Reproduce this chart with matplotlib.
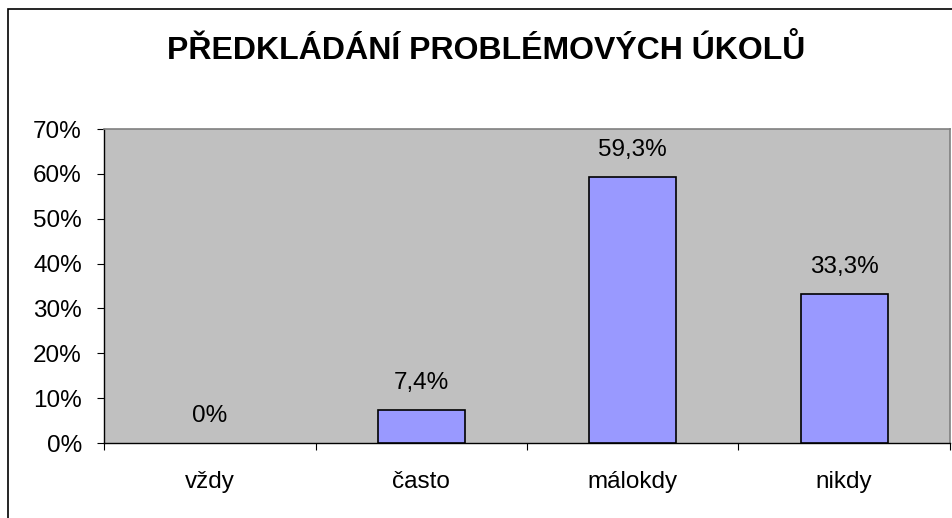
import numpy as np
import matplotlib.pyplot as plt
from matplotlib.patches import Rectangle

plt.rcParams['font.family'] = ['Liberation Sans', 'DejaVu Sans']

categories = ['vždy', 'často', 'málokdy', 'nikdy']
values = [0.0, 7.4, 59.3, 33.3]
labels = ['0%', '7,4%', '59,3%', '33,3%']
yticks = [0, 10, 20, 30, 40, 50, 60, 70]

W, H = 953, 518
fig = plt.figure(figsize=(W / 100, H / 100), dpi=100)
fig.patch.set_facecolor('white')

# outer chart border (only left/top visible in reference)
fig.add_artist(Rectangle((8 / W, -0.1), 1.2, 1.1 - 9 / H, transform=fig.transFigure,
                         fill=False, edgecolor='black', linewidth=1.2))

ax = fig.add_axes([104 / W, 1 - 443 / H, (950 - 104) / W, (443 - 129) / H])
ax.set_facecolor('#C0C0C0')

x = np.arange(len(categories))
edges = ['black' if v > 0 else 'none' for v in values]
ax.bar(x, values, width=0.41, color='#9999FF', edgecolor=edges, linewidth=1.2, zorder=3)

for xi, v, lab in zip(x, values, labels):
    ax.text(xi, v + 6.0, lab, ha='center', va='center', fontsize=17.5)

ax.set_xlim(-0.5, len(categories) - 0.5)
ax.set_ylim(0, 70)
ax.set_yticks(yticks)
ax.set_yticklabels([f'{t}%' for t in yticks], fontsize=17.5)
ax.set_xticks(np.arange(-0.5, len(categories), 1.0))
ax.set_xticklabels([])
ax.set_xticks(x, minor=True)
ax.set_xticklabels(categories, minor=True, fontsize=17.5)
ax.tick_params(axis='x', which='minor', length=0, pad=20)
ax.tick_params(axis='x', which='major', length=5, direction='out', color='black')
ax.tick_params(axis='y', length=5, direction='out', color='black', pad=11)

for side in ['top', 'right']:
    ax.spines[side].set_color('#808080')
    ax.spines[side].set_linewidth(1.2)
for side in ['left', 'bottom']:
    ax.spines[side].set_color('black')
    ax.spines[side].set_linewidth(1.0)

fig.text(486 / W, 1 - 59 / H, 'PŘEDKLÁDÁNÍ PROBLÉMOVÝCH ÚKOLŮ',
         ha='center', va='baseline', fontsize=23, fontweight='bold')

fig.savefig('out.png', dpi=100)
